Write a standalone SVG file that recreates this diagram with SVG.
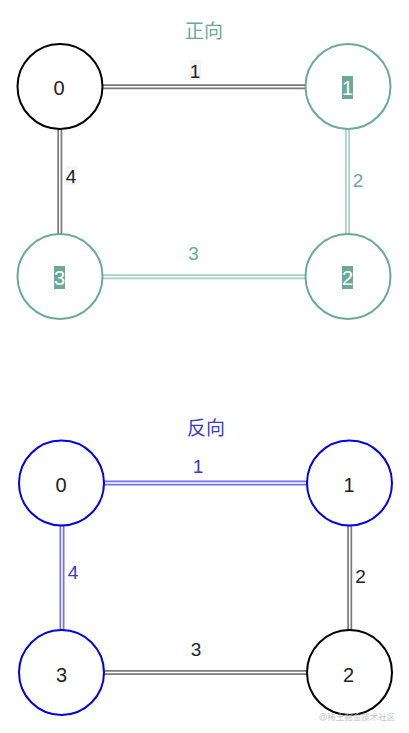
<svg xmlns="http://www.w3.org/2000/svg" width="409" height="733" viewBox="0 0 409 733">
<style>
text{font-family:"Liberation Sans",Arial,"Noto Sans CJK SC",sans-serif;text-anchor:middle}
.n{font-size:20px;fill:#222}
.t{font-size:19px}
.lbl{font-size:19px}
circle{fill:#fff;stroke-width:2}
.ob{stroke:#000}
.gr{stroke:#6aaa96}
.bl{stroke:#0000e0}
.o1{stroke-width:5}
.o2{stroke:#fff;stroke-width:1.6}
.g{stroke:#7a7a7a}
.lg{stroke:#a6d3c4}
.lb{stroke:#7070ea}
.hl{fill:#6aaa96}
</style>
<rect width="409" height="733" fill="#fff"/>
<text x="204" y="38" class="t" fill="#6aaa96">正向</text>
<text x="206" y="435" class="t" fill="#3a3acc">反向</text>
<g id="connectors">
<g id="top-e1"><line x1="102" y1="86.7" x2="306" y2="86.7" class="o1 g"/><line x1="102" y1="86.7" x2="306" y2="86.7" class="o2"/></g>
<g id="top-e4"><line x1="59.8" y1="128" x2="59.8" y2="235" class="o1 g"/><line x1="59.8" y1="128" x2="59.8" y2="235" class="o2"/></g>
<g id="top-e2"><line x1="347.5" y1="128" x2="347.5" y2="235" class="o1 lg"/><line x1="347.5" y1="128" x2="347.5" y2="235" class="o2"/></g>
<g id="top-e3"><line x1="101" y1="276.8" x2="306" y2="276.8" class="o1 lg"/><line x1="101" y1="276.8" x2="306" y2="276.8" class="o2"/></g>
<g id="bot-e1"><line x1="104" y1="483" x2="308" y2="483" class="o1 lb"/><line x1="104" y1="483" x2="308" y2="483" class="o2"/></g>
<g id="bot-e4"><line x1="62" y1="525" x2="62" y2="631" class="o1 lb"/><line x1="62" y1="525" x2="62" y2="631" class="o2"/></g>
<g id="bot-e2"><line x1="349.7" y1="525" x2="349.7" y2="631" class="o1 g"/><line x1="349.7" y1="525" x2="349.7" y2="631" class="o2"/></g>
<g id="bot-e3"><line x1="104" y1="672.5" x2="308" y2="672.5" class="o1 g"/><line x1="104" y1="672.5" x2="308" y2="672.5" class="o2"/></g>
<rect x="190" y="60" width="11" height="20" fill="#f4f4f4"/>
<text x="195" y="78" class="lbl" fill="#222">1</text>
<rect x="66" y="166" width="11" height="19" fill="#f6f6f6"/>
<text x="71" y="183" class="lbl" fill="#222">4</text>
<text x="358" y="187" class="lbl" fill="#6aaa96">2</text>
<rect x="188" y="243" width="11" height="19" fill="#f6f9f8"/>
<text x="193.5" y="260" class="lbl" fill="#6aaa96">3</text>
<text x="198" y="473" class="lbl" fill="#3a3acc">1</text>
<text x="73" y="579" class="lbl" fill="#3a3acc">4</text>
<text x="360.5" y="583" class="lbl" fill="#222">2</text>
<text x="196" y="656" class="lbl" fill="#222">3</text>
</g>
<g id="t0"><circle cx="60" cy="86.5" r="42.5" class="ob"/><text x="59" y="95" class="n">0</text></g>
<g id="t1"><circle cx="348" cy="86.5" r="42.5" class="gr"/><rect x="342" y="76" width="11" height="23" class="hl"/><text x="347.5" y="95" class="n" style="fill:#fff">1</text></g>
<g id="t3"><circle cx="60" cy="276.5" r="42.5" class="gr"/><rect x="54" y="266" width="11" height="23" class="hl"/><text x="59.5" y="285" class="n" style="fill:#fff">3</text></g>
<g id="t2"><circle cx="348" cy="276.5" r="42.5" class="gr"/><rect x="342" y="266" width="11" height="23" class="hl"/><text x="347.5" y="285" class="n" style="fill:#fff">2</text></g>
<g id="b0"><circle cx="61.5" cy="483" r="42.5" class="bl"/><text x="61" y="492" class="n">0</text></g>
<g id="b1"><circle cx="349.5" cy="483" r="42.5" class="bl"/><text x="349" y="492" class="n">1</text></g>
<g id="b3"><circle cx="61.5" cy="672.5" r="42.5" class="bl"/><text x="61.5" y="682" class="n">3</text></g>
<g id="b2"><circle cx="349.5" cy="672.5" r="42.5" class="ob"/><text x="348.5" y="682" class="n">2</text></g>
<text x="357" y="720" style="font-size:8.5px;fill:#c4c4c4">@稀土掘金技术社区</text>
</svg>
